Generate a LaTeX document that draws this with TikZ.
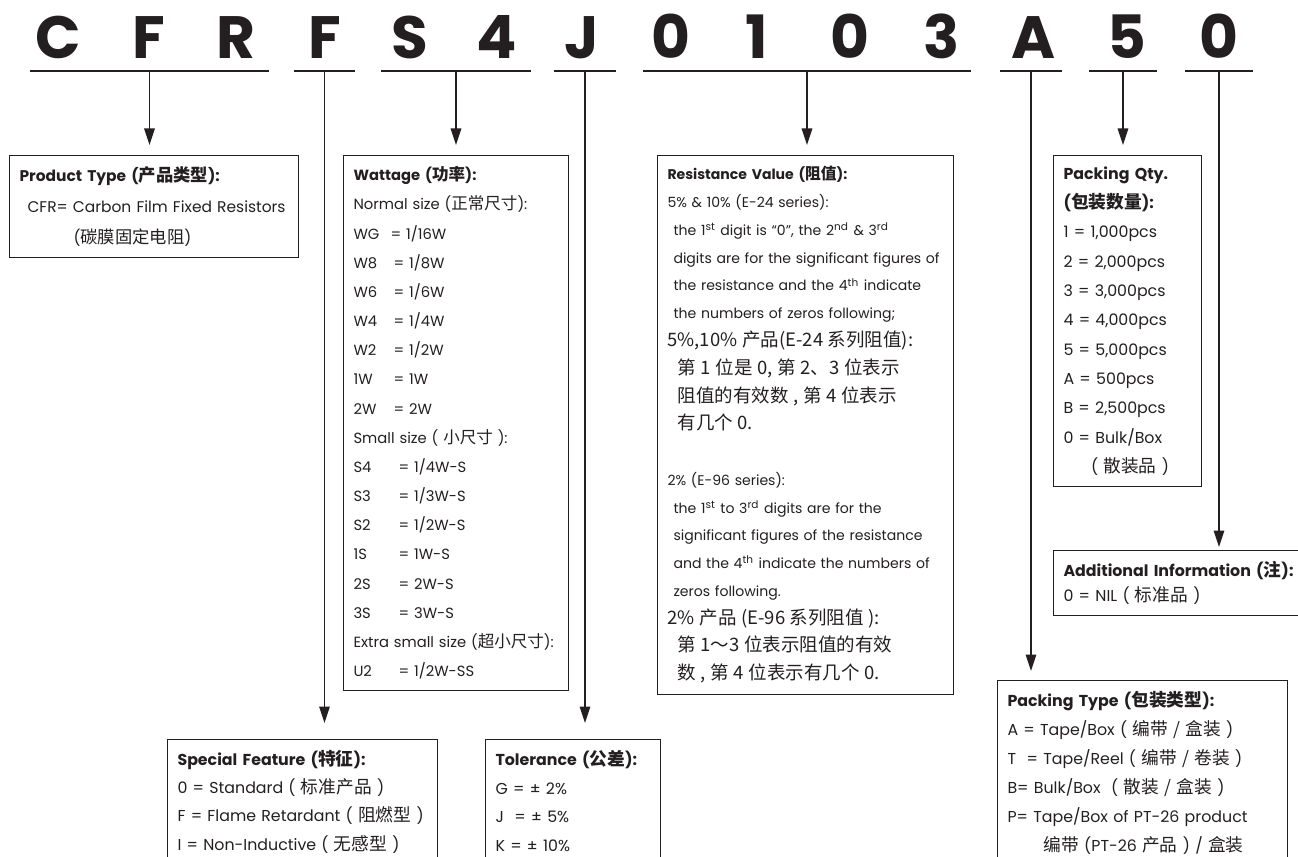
\documentclass[tikz,border=0pt]{standalone}
\usepackage{fontspec}
\setmainfont{Poppins}
\newfontfamily\cjk{Noto Sans CJK SC}[Scale=1.12]
\usetikzlibrary{arrows.meta}

\definecolor{inkgray}{RGB}{35,31,32}

\newcommand{\zh}[1]{{\cjk #1}}
\newcommand{\zhline}[1]{{\fontsize{9.4}{15.8}\selectfont\cjk #1}}
\newcommand{\codekey}[2]{\makebox[#1][l]{#2}}

\begin{document}
\begin{tikzpicture}[
x=0.02cm, y=-0.02cm,
every node/.style={text=inkgray},
arrow/.style={-{Triangle[length=0.33cm,width=0.21cm]}, line width=0.9pt, draw=inkgray}
]

\useasboundingbox (0,0) rectangle (1298,857);
\clip (0,0) rectangle (1298,857);

% =====================================================
% Styles
% =====================================================

\tikzstyle{codechar} =
[anchor=base, inner sep=0pt,
font=\fontsize{34}{34}\selectfont\bfseries]

\tikzstyle{underline} =
[line width=0.9pt, draw=inkgray]

\tikzstyle{infobox} =
[rectangle, draw=inkgray, line width=0.6pt,
anchor=north west, align=left,
inner xsep=0.2cm, inner ysep=0.22cm]

% =====================================================
% Part number
% =====================================================

\foreach \ch/\x [count=\i] in {C/58,F/149,R/236,F/325,S/410,4/497,J/582,0/671,1/757,0/850,3/942,A/1034,5/1127,0/1219}
  \node[codechar] (c\i) at (\x,59) {\ch};

\foreach \a/\b/\nm in {30/269/cfr, 294/355/feat, 381/531/watt, 554/616/tol, 643/971/res, 1000/1062/pack, 1089/1157/qty, 1185/1253/info} {
  \draw[underline] (\a,71) -- (\b,71);
  \coordinate (u-\nm) at ({(\a+\b)/2},71);
}

% =====================================================
% Boxes
% =====================================================

\node (ptype) [infobox, text width=5.38cm, font=\fontsize{8.8}{17.6}\selectfont] at (9,155)
{\textbf{Product Type (\zh{产品类型}):}\\
\hspace*{0.16cm}CFR= Carbon Film Fixed Resistors\\
\hspace*{1.08cm}(\zh{碳膜固定电阻})};

\node (watt) [infobox, text width=4.1cm, font=\fontsize{8.4}{16.6}\selectfont] at (343,155)
{\textbf{Wattage (\zh{功率}):}\\
Normal size (\zh{正常尺寸}):\\
\codekey{0.74cm}{WG}= 1/16W\\
\codekey{0.8cm}{W8}= 1/8W\\
\codekey{0.8cm}{W6}= 1/6W\\
\codekey{0.8cm}{W4}= 1/4W\\
\codekey{0.8cm}{W2}= 1/2W\\
\codekey{0.8cm}{1W}= 1W\\
\codekey{0.8cm}{2W}= 2W\\
Small size ( \zh{小尺寸} ):\\
\codekey{0.9cm}{S4}= 1/4W-S\\
\codekey{0.9cm}{S3}= 1/3W-S\\
\codekey{0.9cm}{S2}= 1/2W-S\\
\codekey{0.9cm}{1S}= 1W-S\\
\codekey{0.9cm}{2S}= 2W-S\\
\codekey{0.9cm}{3S}= 3W-S\\
Extra small size (\zh{超小尺寸}):\\
\codekey{0.9cm}{U2}= 1/2W-SS};

\node (res) [infobox, text width=5.52cm, font=\fontsize{8}{15.8}\selectfont] at (657,155)
{\textbf{Resistance Value (\zh{阻值}):}\\
5\% \& 10\% (E-24 series):\\
\hspace*{0.12cm}the 1\textsuperscript{st} digit is “0”, the 2\textsuperscript{nd} \& 3\textsuperscript{rd}\\
\hspace*{0.12cm}digits are for the significant figures of\\
\hspace*{0.12cm}the resistance and the 4\textsuperscript{th} indicate\\
\hspace*{0.12cm}the numbers of zeros following;\\
\zhline{5\%,10\% 产品(E-24 系列阻值):}\\
\hspace*{0.2cm}\zhline{第 1 位是 0, 第 2、3 位表示}\\
\hspace*{0.2cm}\zhline{阻值的有效数 , 第 4 位表示}\\
\hspace*{0.2cm}\zhline{有几个 0.}\\[15.8pt]
2\% (E-96 series):\\
\hspace*{0.12cm}the 1\textsuperscript{st} to 3\textsuperscript{rd} digits are for the\\
\hspace*{0.12cm}significant figures of the resistance\\
\hspace*{0.12cm}and the 4\textsuperscript{th} indicate the numbers of\\
\hspace*{0.12cm}zeros following.\\
\zhline{2\% 产品 (E-96 系列阻值 ):}\\
\hspace*{0.2cm}\zhline{第 1～3 位表示阻值的有效}\\
\hspace*{0.2cm}\zhline{数 , 第 4 位表示有几个 0.}};

\node (qty) [infobox, text width=2.56cm, font=\fontsize{9}{16.7}\selectfont] at (1053,155)
{\textbf{Packing Qty.}\\
\textbf{(\zh{包装数量}):}\\
1 = 1,000pcs\\
2 = 2,000pcs\\
3 = 3,000pcs\\
4 = 4,000pcs\\
5 = 5,000pcs\\
A = 500pcs\\
B = 2,500pcs\\
0 = Bulk/Box\\
\hspace*{0.55cm}( \zh{散装品} )};

\node (info) [infobox, text width=4.8cm, font=\fontsize{9}{14.2}\selectfont] at (1053,550)
{\textbf{Additional Information (\zh{注}):}\\
0 = NIL ( \zh{标准品} )};

\node (pack) [infobox, text width=5.4cm, font=\fontsize{9}{16.5}\selectfont] at (997,680)
{\textbf{Packing Type (\zh{包装类型}):}\\
A = Tape/Box ( \zh{编带 / 盒装} )\\
T\ \ = Tape/Reel ( \zh{编带 / 卷装} )\\
B= Bulk/Box \ ( \zh{散装 / 盒装} )\\
P= Tape/Box of PT-26 product\\
\hspace*{0.72cm}\zh{编带} (PT-26 \zh{产品} ) / \zh{盒装}};

\node (feat) [infobox, text width=5.0cm, font=\fontsize{9}{16}\selectfont] at (167,739)
{\textbf{Special Feature (\zh{特征}):}\\
0 = Standard ( \zh{标准产品} )\\
F = Flame Retardant ( \zh{阻燃型} )\\
I = Non-Inductive ( \zh{无感型} )};

\node (tol) [infobox, text width=3.1cm, font=\fontsize{9}{16.3}\selectfont] at (485,739)
{\textbf{Tolerance (\zh{公差}):}\\
G = ± 2\%\\
J\ \ = ± 5\%\\
K = ± 10\%};

% =====================================================
% Arrows
% =====================================================

\draw [arrow, shorten >=0.2cm] (u-cfr) -- (u-cfr |- ptype.north);

\draw [arrow, shorten >=0.32cm] (u-feat) -- (u-feat |- feat.north);

\draw [arrow, shorten >=0.2cm] (u-watt) -- (u-watt |- watt.north);

\draw [arrow, shorten >=0.32cm] (u-tol) -- (u-tol |- tol.north);

\draw [arrow, shorten >=0.2cm] (u-res) -- (u-res |- res.north);

\draw [arrow, shorten >=0.18cm] (u-pack) -- (u-pack |- pack.north);

\draw [arrow, shorten >=0.2cm] (u-qty) -- (u-qty |- qty.north);

\draw [arrow, shorten >=0.06cm] (u-info) -- (u-info |- info.north);

\end{tikzpicture}
\end{document}
